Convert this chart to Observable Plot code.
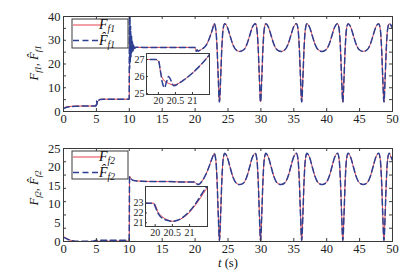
<!DOCTYPE html>
<html><head><meta charset="utf-8">
<script src="https://cdn.jsdelivr.net/npm/d3@7"></script>
<script src="https://cdn.jsdelivr.net/npm/@observablehq/plot@0.6"></script>
<style>
body{margin:0;background:#fff}
#c{position:relative;width:418px;height:275px;overflow:hidden;background:#fff}
#c > svg{position:absolute}
#c svg, #c svg text{font-family:"Liberation Serif","DejaVu Serif",serif !important}
</style></head><body><div id="c"></div>
<script>
// ---- tick labels / tick positions ----
const xTicks = [0,5,10,15,20,25,30,35,40,45,50];
const y1Ticks = [0,10,20,30,40];
const y1Minor = [5,10,15,20,25,30,35];
const y2Ticks = [0,5,10,15,20,25];
const y2Minor = [3.57,7.14,10.71,14.29,17.86,21.43];
const inset1X = [20,20.5,21], inset1Y = [25,26,27];
const inset2X = [20,20.5,21], inset2Y = [21,22,23];

// ---- top panel: early part (t < 22.9) ----
const tF1 = [0,0.3,0.7,1.2,2,3,4,4.95,5.05,5.2,5.4,5.6,6,7,8,9,9.98,10.04,10.1,10.18,10.3,10.45,10.7,11,12,14,16,18,19.9,20.0,20.08,20.15,20.25,20.35,20.45,20.6,20.75,21.0,21.25,21.5,21.8,22.1,22.4,22.65];
const vF1 = [1.5,1.8,2.0,2.2,2.3,2.3,2.3,2.3,3.6,4.2,4.8,5.1,5.2,5.2,5.2,5.2,5.2,26,31,28.5,27.6,27.1,27,27,27,27,27,27,27,26.9,26.1,25.8,25.65,25.55,25.5,25.6,25.8,26.2,26.7,27.3,28.5,30.3,32.6,34.7];
const tF1hat = [0,0.3,0.7,1.2,2,3,4,4.95,5.03,5.1,5.18,5.3,5.45,5.6,6,7,8,9,9.98,10.02,10.06,10.1,10.15,10.2,10.26,10.33,10.4,10.48,10.57,10.68,10.8,11,12,14,16,18,19.9,20.0,20.06,20.12,20.18,20.24,20.3,20.36,20.45,20.6,20.75,21.0,21.25,21.5,21.8,22.1,22.4,22.65];
const vF1hat = [1.2,1.6,1.9,2.1,2.2,2.3,2.3,2.3,4.4,3.0,4.6,4.3,5.0,5.1,5.2,5.2,5.2,5.2,5.2,44,18,40,21,36,23,32,24.5,29.5,25.5,28.3,26.5,27.1,27,27,27,27,27,26.95,26.3,25.6,25.35,25.7,26.0,25.8,25.45,25.6,25.8,26.2,26.7,27.3,28.5,30.3,32.6,34.7];

// ---- bottom panel: early part ----
const tF2 = [0,0.3,0.7,1.2,1.8,2.5,3.5,4.5,5,6,7,8,9,9.98,10.04,10.1,10.2,10.4,10.7,11,12,14,16,18,19.9,20.05,20.2,20.35,20.5,20.7,21.0,21.3,21.6,21.9,22.2,22.5,22.7];
const vF2 = [1.4,1.0,0.6,0.25,0.05,-0.05,-0.05,0,0.05,0.1,0.1,0.1,0.1,0.1,17.6,17.4,17.0,16.6,16.4,16.3,16.2,16.1,16.1,16.0,16.0,15.8,15.55,15.4,15.35,15.5,16.1,16.9,17.9,19.1,20.5,22.0,22.9];
const vF2hat = [1.1,0.9,0.55,0.25,0.1,0.05,0.05,0.1,0.35,0.35,0.35,0.35,0.35,0.35,17.4,17.3,17.0,16.6,16.4,16.3,16.2,16.1,16.1,16.0,16.0,15.8,15.55,15.4,15.35,15.5,16.1,16.9,17.9,19.1,20.5,22.0,22.9];

// ---- periodic part (t >= 22.9), shared by both curves ----
const tOsc = [22.9,23.15,23.35,23.52,23.7,23.88,24.05,24.25,24.5,24.9,25.3,25.7,26.2,26.8,27.4,27.9,28.3,28.7,29.15,
  29.4,29.6,29.77,29.95,30.13,30.3,30.5,30.75,31.15,31.55,31.95,32.45,33.05,33.65,34.15,34.55,34.95,35.4,
  35.65,35.85,36.02,36.2,36.38,36.55,36.75,37.0,37.4,37.8,38.2,38.7,39.3,39.9,40.4,40.8,41.2,41.65,
  41.9,42.1,42.27,42.45,42.63,42.8,43.0,43.25,43.65,44.05,44.45,44.95,45.55,46.15,46.65,47.05,47.45,47.9,
  48.15,48.35,48.52,48.7,48.88,49.05,49.25,49.5,49.75,50];
const f1Osc = [37,34.5,26,14,4,14,26,34.5,37,35.5,32,28.5,26,25.3,26,28.5,32,35.5,37,
  34.5,26,14,4,14,26,34.5,37,35.5,32,28.5,26,25.3,26,28.5,32,35.5,37,
  34.5,26,14,4,14,26,34.5,37,35.5,32,28.5,26,25.3,26,28.5,32,35.5,37,
  34.5,26,14,4,14,26,34.5,37,35.5,32,28.5,26,25.3,26,28.5,32,35.5,37,
  34.5,26,14,4,14,26,34.5,37,36.4,35];
const f2Osc = [23.7,21.9,15.8,7.2,0.3,7.2,15.8,21.9,23.7,22.6,20.1,17.6,15.8,15.3,15.8,17.6,20.1,22.6,23.7,
  21.9,15.8,7.2,0.3,7.2,15.8,21.9,23.7,22.6,20.1,17.6,15.8,15.3,15.8,17.6,20.1,22.6,23.7,
  21.9,15.8,7.2,0.3,7.2,15.8,21.9,23.7,22.6,20.1,17.6,15.8,15.3,15.8,17.6,20.1,22.6,23.7,
  21.9,15.8,7.2,0.3,7.2,15.8,21.9,23.7,22.6,20.1,17.6,15.8,15.3,15.8,17.6,20.1,22.6,23.7,
  21.9,15.8,7.2,0.3,7.2,15.8,21.9,23.7,22.8,21.8];

// ---- bottom inset (zoom 19.72..21.52) ----
const tIn2 = [19.72,19.95,20.02,20.08,20.15,20.25,20.35,20.5,20.65,20.8,20.95,21.1,21.25,21.4,21.5];
const vIn2 = [23,23,22.7,22.1,21.8,21.5,21.3,21.15,21.25,21.5,21.9,22.5,23.2,24.0,24.5];
const vIn2hat = [23,23,22.5,22.0,21.65,21.4,21.25,21.15,21.25,21.55,22.0,22.6,23.35,24.2,24.7];

const RED = "#e4414a", BLUE = "#2e3f92", AX = "#3a3a3a";
const zip = (ts, vs) => ts.map((t, i) => ({t, v: vs[i]}));
const f1 = zip(tF1.concat(tOsc), vF1.concat(f1Osc));
const f1h = zip(tF1hat.concat(tOsc), vF1hat.concat(f1Osc));
const f2 = zip(tF2.concat(tOsc), vF2.concat(f2Osc));
const f2h = zip(tF2.concat(tOsc), vF2hat.concat(f2Osc));
const in2 = zip(tIn2, vIn2), in2h = zip(tIn2, vIn2hat);

const FONT = "Liberation Serif, DejaVu Serif, serif";
const C = document.getElementById("c");

function lines(red, blue) {
  return [
    Plot.line(red, {x: "t", y: "v", stroke: RED, strokeWidth: 1, curve: "monotone-x", clip: true}),
    Plot.line(blue, {x: "t", y: "v", stroke: BLUE, strokeWidth: 1.5, strokeDasharray: "6,3.5", curve: "monotone-x", clip: true})
  ];
}

function panel({red, blue, yDomain, yTicks, yMinor, top, height, mt, mb}) {
  const fw = 418 - 63 - 26, fh = height - mt - mb;
  const svg = Plot.plot({
    width: 418, height, marginLeft: 63, marginRight: 26, marginTop: mt, marginBottom: mb,
    style: {fontFamily: FONT, fontSize: "12.5px", background: "transparent", color: "#222", overflow: "visible"},
    x: {domain: [0, 50]}, y: {domain: yDomain},
    marks: [
      ...lines(red, blue),
      Plot.frame({stroke: AX, strokeWidth: 1}),
      Plot.tickX(xTicks, {x: d => d, insetTop: fh - 3, stroke: AX}),
      Plot.tickX(xTicks, {x: d => d, insetBottom: fh - 3, stroke: AX}),
      Plot.tickY(yMinor, {y: d => d, insetRight: fw - 3, stroke: AX}),
      Plot.tickY(yMinor, {y: d => d, insetLeft: fw - 3, stroke: AX}),
      Plot.axisX(xTicks, {tickSize: 0, tickPadding: 3, label: null, tickFormat: d => String(d)}),
      Plot.axisY(yTicks, {tickSize: 0, tickPadding: 3, label: null, tickFormat: d => String(d)})
    ]
  });
  svg.style.left = "0px"; svg.style.top = top + "px";
  C.appendChild(svg);
  return svg;
}

function inset({red, blue, xDomain, yDomain, xT, yT, left, top, w, h}) {
  const ml = 20, mr = 2, mt = 2, mb = 14;
  const svg = Plot.plot({
    width: ml + w + mr, height: mt + h + mb, marginLeft: ml, marginRight: mr, marginTop: mt, marginBottom: mb,
    style: {fontFamily: FONT, fontSize: "10px", background: "transparent", color: "#222", overflow: "visible"},
    x: {domain: xDomain}, y: {domain: yDomain},
    marks: [
      Plot.frame({fill: "white"}),
      ...lines(red, blue),
      Plot.frame({stroke: AX, strokeWidth: 1}),
      Plot.tickX(xT, {x: d => d, insetTop: h - 2, stroke: AX}),
      Plot.tickY(yT, {y: d => d, insetRight: w - 2, stroke: AX}),
      Plot.axisX(xT, {tickSize: 0, tickPadding: 2, label: null, tickFormat: d => String(d)}),
      Plot.axisY(yT, {tickSize: 0, tickPadding: 2, label: null, tickFormat: d => String(d)})
    ]
  });
  svg.style.left = (left - ml) + "px"; svg.style.top = (top - mt) + "px";
  C.appendChild(svg);
}

function yLabel(svg, x, y, sub) {
  const t = d3.select(svg).append("text").attr("transform", `translate(${x},${y}) rotate(-90)`)
    .attr("text-anchor", "middle").attr("font-size", 12.5).attr("fill", "#111");
  t.append("tspan").attr("font-style", "italic").text("F");
  t.append("tspan").attr("font-style", "italic").attr("font-size", 8.5).attr("dy", 3).text("f" + sub);
  t.append("tspan").attr("dy", -3).text(", ");
  t.append("tspan").attr("font-style", "italic").text("F\u0302");
  t.append("tspan").attr("font-style", "italic").attr("font-size", 8.5).attr("dy", 3).text("f" + sub);
}

function legend(svg, x, y, w, h, sub) {
  const g = d3.select(svg).append("g");
  g.append("rect").attr("x", x).attr("y", y).attr("width", w).attr("height", h)
    .attr("fill", "white").attr("stroke", AX).attr("stroke-width", 1);
  const rows = [{c: RED, d: null, sw: 1, lab: "F"}, {c: BLUE, d: "6,3.5", sw: 1.5, lab: "F\u0302"}];
  rows.forEach((r, i) => {
    const yy = y + 6 + i * 15.5;
    g.append("line").attr("x1", x + 1).attr("x2", x + 31).attr("y1", yy).attr("y2", yy)
      .attr("stroke", r.c).attr("stroke-width", r.sw).attr("stroke-dasharray", r.d);
    const t = g.append("text").attr("x", x + 35).attr("y", yy + 4)
      .attr("font-size", 14).attr("fill", "#111");
    t.append("tspan").attr("font-style", "italic").text(r.lab);
    t.append("tspan").attr("font-style", "italic").attr("font-size", 9.5).attr("dy", 3).text("f" + sub);
  });
}

const s1 = panel({red: f1, blue: f1h, yDomain: [0, 40], yTicks: y1Ticks, yMinor: y1Minor, top: 0, height: 131, mt: 16, mb: 20});
const s2 = panel({red: f2, blue: f2h, yDomain: [0, 25], yTicks: y2Ticks, yMinor: y2Minor, top: 130, height: 145, mt: 18, mb: 34});

yLabel(s1, 38, 63, "1");
yLabel(s2, 38, 58, "2");
legend(s1, 72, 19, 56, 29, "1");
legend(s2, 72, 21, 56, 28, "2");

// x axis title
const xt = d3.select(s2).append("text").attr("x", 228).attr("y", 137).attr("text-anchor", "middle")
  .attr("font-size", 12.5).attr("fill", "#111");
xt.append("tspan").attr("font-style", "italic").text("t");
xt.append("tspan").text(" (s)");

inset({red: f1, blue: f1h, xDomain: [19.65, 21.5], yDomain: [24.94, 27.35], xT: inset1X, yT: inset1Y, left: 146, top: 53, w: 63, h: 41});
inset({red: in2, blue: in2h, xDomain: [19.72, 21.52], yDomain: [20.62, 24.7], xT: inset2X, yT: inset2Y, left: 145, top: 186, w: 62, h: 40});
</script></body></html>
